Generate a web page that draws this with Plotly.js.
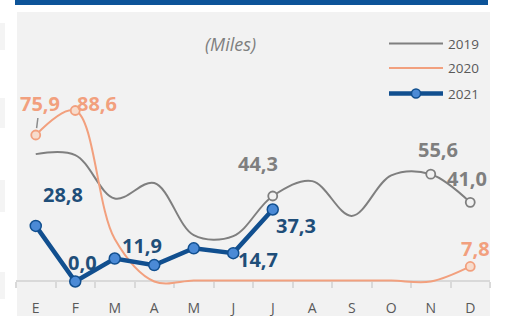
<!DOCTYPE html>
<html><head><meta charset="utf-8">
<script src="https://cdn.plot.ly/plotly-3.0.1.min.js"></script>
<style>html,body{margin:0;padding:0;background:#fff;}#chart{width:505px;height:316px;}</style>
</head><body><div id="chart"></div>
<script>
// ---- data ----
const months = ['E','F','M','A','M','J','J','A','S','O','N','D'];
const seriesNames = ['2019','2020','2021'];
const v2019 = [66, 65.5, 43, 51, 24, 23.5, 44.3, 52, 34, 55, 55.6, 41.0];
const v2020 = [75.9, 88.6, 22, 0, 0.5, 0.5, 0.5, 0.5, 0.5, 0.5, 0, 7.8];
const v2021 = [28.8, 0.0, 11.9, 8.5, 17.2, 14.7, 37.3];
const unitLabel = '(Miles)';

// ---- helpers ----
const W = 505, H = 316, ML = 16, MR = 15;
const px = x => (x - ML) / (W - ML - MR);
const py = y => 1 - y / H;
const fmt = v => v.toFixed(1).replace('.', ',');
const xs = arr => arr.map((_, i) => i);

const colors = {g: '#7f7f7f', o: '#f2a07e', b: '#114f8f', bFill: '#4b8ad6', bText: '#1f4e79'};

// which points carry markers/labels, with offsets (pixels)
const labelCfg = [
  {s: 0, i: 6, dx: -15, dy: 33},
  {s: 0, i: 10, dx: 7, dy: 25},
  {s: 0, i: 11, dx: -3, dy: 24},
  {s: 1, i: 0, dx: 4, dy: 32, arrow: true},
  {s: 1, i: 1, dx: 22, dy: 7.5},
  {s: 1, i: 11, dx: 5, dy: 18},
  {s: 2, i: 0, dx: 27, dy: 31},
  {s: 2, i: 1, dx: 7, dy: 19.5},
  {s: 2, i: 2, dx: 27, dy: 13.5},
  {s: 2, i: 5, dx: 25, dy: -6},
  {s: 2, i: 6, dx: 23, dy: -15.5}
];
const allVals = [v2019, v2020, v2021];
const labelColors = [colors.g, colors.o, colors.bText];

function markerOpacity(s, arr) {
  return arr.map((_, i) => labelCfg.some(c => c.s === s && c.i === i) ? 1 : 0);
}

const traces = [
  {x: xs(v2019), y: v2019, name: seriesNames[0], mode: 'lines+markers', type: 'scatter',
   line: {color: colors.g, width: 2, shape: 'spline', smoothing: 1},
   marker: {size: 9, color: '#f2f2f2', opacity: markerOpacity(0, v2019), line: {color: colors.g, width: 1.8}},
   cliponaxis: false, hoverinfo: 'skip'},
  {x: xs(v2020), y: v2020, name: seriesNames[1], mode: 'lines+markers', type: 'scatter',
   line: {color: colors.o, width: 2, shape: 'spline', smoothing: 1},
   marker: {size: 9, color: '#f7dccd', opacity: markerOpacity(1, v2020), line: {color: colors.o, width: 1.8}},
   cliponaxis: false, hoverinfo: 'skip'},
  {x: xs(v2021), y: v2021, name: seriesNames[2], mode: 'lines+markers', type: 'scatter',
   line: {color: colors.b, width: 4.5},
   marker: {size: 11, color: colors.bFill, line: {color: colors.b, width: 1.5}},
   cliponaxis: false, hoverinfo: 'skip'}
];

const annotations = labelCfg.map(c => {
  const a = {
    x: c.i, y: allVals[c.s][c.i], xref: 'x', yref: 'y',
    text: fmt(allVals[c.s][c.i]),
    font: {family: 'Open Sans, Liberation Sans, sans-serif', size: 20, color: labelColors[c.s], weight: 'bold'},
    showarrow: false, xshift: c.dx, yshift: c.dy
  };
  if (c.arrow) {
    Object.assign(a, {showarrow: true, ax: c.dx, ay: -c.dy, axref: 'pixel', ayref: 'pixel',
      arrowhead: 0, arrowwidth: 1.5, arrowcolor: '#8c8c8c', standoff: 7, xshift: 0, yshift: 0});
  }
  return a;
});

annotations.push({
  x: px(230), y: py(30), xref: 'paper', yref: 'paper', text: unitLabel, showarrow: false,
  font: {family: 'Open Sans, Liberation Sans, sans-serif', size: 18, color: '#7f7f7f', style: 'italic'}
});

const shapes = [
  {type: 'rect', xref: 'paper', yref: 'paper', x0: px(17), x1: px(490), y0: py(H + 5), y1: py(12), fillcolor: '#f2f2f2', line: {width: 0}, layer: 'below'},
  {type: 'rect', xref: 'paper', yref: 'paper', x0: px(15), x1: px(488), y0: py(5), y1: py(-2), fillcolor: '#0d5499', line: {width: 0}, layer: 'below'}
];
[[23, 50], [98, 128], [180, 212], [272, 299]].forEach(r => shapes.push(
  {type: 'rect', xref: 'paper', yref: 'paper', x0: px(-2), x1: px(5), y0: py(r[1]), y1: py(r[0]), fillcolor: '#f4f4f4', line: {width: 0}, layer: 'below'}));

// manual legend
const legRows = [43.5, 68, 93.5];
const legColors = [colors.g, colors.o, colors.b];
const legWidths = [2, 2, 4.5];
seriesNames.forEach((n, k) => {
  shapes.push({type: 'line', xref: 'paper', yref: 'paper', x0: px(389), x1: px(443), y0: py(legRows[k]), y1: py(legRows[k]),
    line: {color: legColors[k], width: legWidths[k]}});
  annotations.push({x: px(446), y: py(legRows[k]), xref: 'paper', yref: 'paper', xanchor: 'left', yanchor: 'middle',
    text: n, showarrow: false, font: {family: 'Open Sans, Liberation Sans, sans-serif', size: 13.5, color: '#595959'}});
});
shapes.push({type: 'circle', xref: 'paper', yref: 'paper', x0: px(411.5), x1: px(420.5), y0: py(98), y1: py(89),
  fillcolor: colors.bFill, line: {color: colors.b, width: 1.5}});

const layout = {
  width: W, height: H,
  margin: {l: ML, r: MR, t: 0, b: 0},
  paper_bgcolor: '#ffffff', plot_bgcolor: 'rgba(0,0,0,0)',
  showlegend: false,
  xaxis: {
    range: [-0.5, 11.5], anchor: 'free', position: (H - 280.5) / H,
    tickmode: 'array', tickvals: xs(months), ticktext: months, ticks: '',
    ticklabelstandoff: 15,
    showline: true, linecolor: '#d9d9d9', linewidth: 2, showgrid: false, zeroline: false,
    tickfont: {family: 'Open Sans, Liberation Sans, sans-serif', size: 14, color: '#595959'},
    minor: {tickmode: 'linear', tick0: 0.5, dtick: 1, ticks: 'outside', ticklen: 6, tickcolor: '#d9d9d9', tickwidth: 2, showgrid: false},
    layer: 'below traces', fixedrange: true
  },
  yaxis: {
    domain: [24 / H, 1], range: [(281.5 - 292) / 1.93, 281.5 / 1.93],
    visible: false, showgrid: false, zeroline: false, fixedrange: true
  },
  shapes: shapes,
  annotations: annotations
};

Plotly.newPlot('chart', traces, layout, {staticPlot: true, displayModeBar: false});
</script>
</body></html>
